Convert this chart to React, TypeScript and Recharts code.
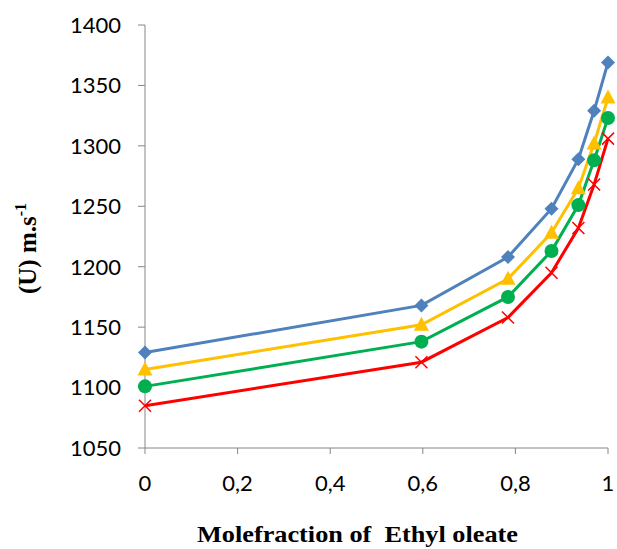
import { LineChart, Line, XAxis, YAxis } from "recharts";

const moleFraction = [0, 0.597, 0.784, 0.878, 0.936, 0.97, 1.0];
const seriesBlue = [1129, 1168, 1208, 1248, 1289, 1329, 1369];
const seriesYellow = [1115, 1152, 1190, 1228, 1265, 1302, 1340];
const seriesGreen = [1101, 1138, 1175, 1213, 1251, 1288, 1323];
const seriesRed = [1085, 1121, 1158, 1195, 1232, 1268, 1306];
const xTicks = [0, 0.2, 0.4, 0.6, 0.8, 1];
const yTicks = [1050, 1100, 1150, 1200, 1250, 1300, 1350, 1400];

const data = moleFraction.map((x, i) => ({
  x,
  blue: seriesBlue[i],
  yellow: seriesYellow[i],
  green: seriesGreen[i],
  red: seriesRed[i],
}));

const BLUE = "#4F81BD";
const YELLOW = "#FFC000";
const GREEN = "#00B050";
const RED = "#FF0000";
const AXIS = "#868686";
const TICK_FONT = { fontFamily: "Lato", fontSize: 22, fill: "#000" };
const SERIF = "'Liberation Serif', 'DejaVu Serif', serif";

function Diamond(props: any) {
  const { cx, cy, key } = props;
  const r = 7;
  return <path key={key} d={`M${cx},${cy - r}L${cx + r},${cy}L${cx},${cy + r}L${cx - r},${cy}Z`} fill={BLUE} />;
}

function Triangle(props: any) {
  const { cx, cy, key } = props;
  return <path key={key} d={`M${cx},${cy - 8}L${cx + 7.5},${cy + 6}L${cx - 7.5},${cy + 6}Z`} fill={YELLOW} />;
}

function Circle(props: any) {
  const { cx, cy, key } = props;
  return <circle key={key} cx={cx} cy={cy} r={7} fill={GREEN} />;
}

function Cross(props: any) {
  const { cx, cy, key } = props;
  const r = 6;
  return (
    <path
      key={key}
      d={`M${cx - r},${cy - r}L${cx + r},${cy + r}M${cx - r},${cy + r}L${cx + r},${cy - r}`}
      stroke={RED}
      strokeWidth={1.5}
      fill="none"
    />
  );
}

function XTitle(props: any) {
  const { viewBox } = props;
  const x = viewBox.x + viewBox.width / 2 - 19;
  return (
    <text
      x={x}
      y={542}
      textAnchor="middle"
      textLength={321}
      lengthAdjust="spacingAndGlyphs"
      style={{ fontFamily: SERIF, fontWeight: 700, fontSize: 23 }}
      fill="#000"
    >
      Molefraction of{"\u00a0\u00a0"}Ethyl oleate
    </text>
  );
}

function YTitle(props: any) {
  const { viewBox } = props;
  const cy = viewBox.y + viewBox.height / 2 + 12;
  const x = 36;
  return (
    <text
      x={x}
      y={cy}
      transform={`rotate(-90, ${x}, ${cy})`}
      textAnchor="middle"
      style={{ fontFamily: SERIF, fontWeight: 700, fontSize: 25 }}
      fill="#000"
    >
      (U) m.s
      <tspan style={{ fontSize: 16 }} dy={-10}>-1</tspan>
    </text>
  );
}

export default function App() {
  return (
    <div style={{ position: "absolute", left: 0, top: 0, background: "#fff" }}>
      <LineChart width={617} height={549} data={data} margin={{ top: 25, right: 9, left: 0, bottom: 30 }}>
        <XAxis
          dataKey="x"
          type="number"
          domain={[0, 1]}
          ticks={xTicks}
          tickFormatter={(v: number) => String(v).replace(".", ",")}
          tick={TICK_FONT}
          stroke={AXIS}
          tickLine={{ stroke: AXIS }}
          tickSize={6}
          tickMargin={21}
          height={71}
          label={<XTitle />}
        />
        <YAxis
          type="number"
          domain={[1050, 1400]}
          ticks={yTicks}
          tick={TICK_FONT}
          stroke={AXIS}
          tickLine={{ stroke: AXIS }}
          tickSize={7}
          tickMargin={17}
          width={145}
          label={<YTitle />}
        />
        <Line dataKey="blue" stroke={BLUE} strokeWidth={3} dot={Diamond} activeDot={false} isAnimationActive={false} />
        <Line dataKey="yellow" stroke={YELLOW} strokeWidth={3} dot={Triangle} activeDot={false} isAnimationActive={false} />
        <Line dataKey="green" stroke={GREEN} strokeWidth={3} dot={Circle} activeDot={false} isAnimationActive={false} />
        <Line dataKey="red" stroke={RED} strokeWidth={3} dot={Cross} activeDot={false} isAnimationActive={false} />
      </LineChart>
    </div>
  );
}
